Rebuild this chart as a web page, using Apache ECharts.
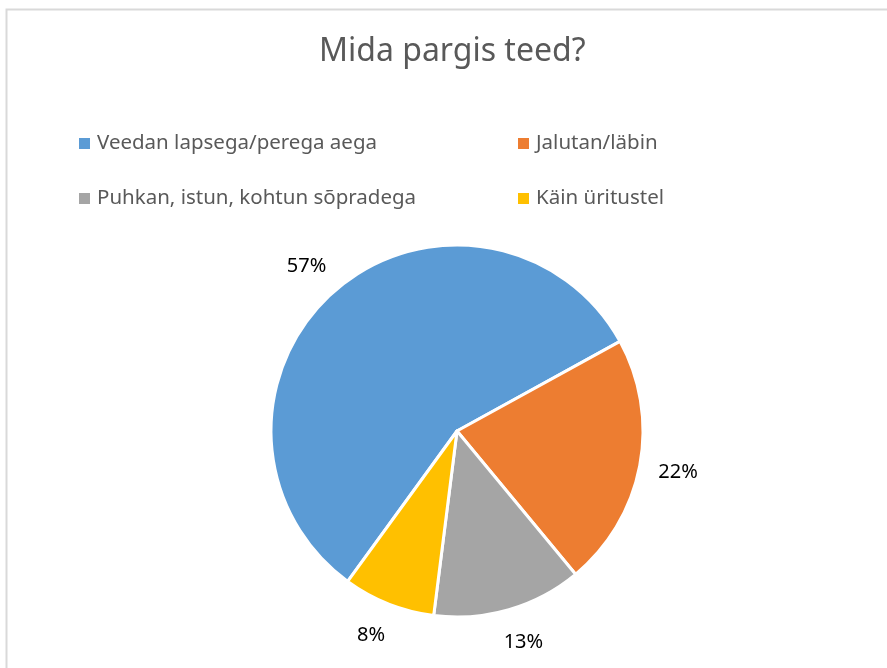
<!DOCTYPE html>
<html lang="et">
<head>
    <meta charset="UTF-8">
    <title>Mida pargis teed?</title>
    <script src="https://cdn.jsdelivr.net/npm/echarts@6/dist/echarts.min.js"></script>
    <style>
        html, body { margin: 0; padding: 0; background: #fff; }
    </style>
</head>
<body>
    <div id="main" style="width: 887px;height:668px;"></div>
    <script type="text/javascript">
        // andmed
        var categories = ['Veedan lapsega/perega aega', 'Jalutan/läbin', 'Puhkan, istun, kohtun sõpradega', 'Käin üritustel'];
        var values = [57, 22, 13, 8];
        var colors = ['#5B9BD5', '#ED7D31', '#A5A5A5', '#FFC000'];

        var myChart = echarts.init(document.getElementById('main'));

        var font = 'Noto Sans';
        var pieData = [];
        for (var i = 0; i < categories.length; i++) {
            pieData.push({ name: categories[i], value: values[i], itemStyle: { color: colors[i] } });
        }

        // legend: 2 rida, 2 veergu
        var legendPos = [[77, 133], [516, 133], [77, 188], [516, 188]];
        var legends = [];
        for (var j = 0; j < categories.length; j++) {
            legends.push({
                left: legendPos[j][0],
                top: legendPos[j][1],
                padding: 0,
                data: [categories[j]],
                icon: 'rect',
                itemWidth: 13,
                itemHeight: 13,
                itemGap: 0,
                selectedMode: false,
                textStyle: { fontFamily: font, fontSize: 20.5, color: '#595959', padding: [0, 0, 0, 1] }
            });
        }

        var option = {
            backgroundColor: '#fff',
            animation: false,
            title: {
                left: 319,
                top: 36,
                padding: 0,
                text: 'Mida pargis teed?',
                textStyle: { fontFamily: font, fontSize: 32, fontWeight: 'normal', color: '#595959' }
            },
            graphic: [{
                type: 'rect',
                shape: { x: 6.5, y: 9.5, width: 900, height: 700 },
                style: { fill: 'none', stroke: '#d9d9d9', lineWidth: 2 }
            }],
            legend: legends,
            series: [{
                type: 'pie',
                center: [457, 431],
                radius: 186,
                startAngle: 234,
                clockwise: true,
                data: pieData,
                itemStyle: { borderColor: '#fff', borderWidth: 3 },
                label: {
                    show: true,
                    position: 'outside',
                    formatter: '{c}%',
                    fontFamily: font,
                    fontSize: 20,
                    color: '#000'
                },
                labelLine: { show: false, length: 34, length2: 0 },
                labelLayout: function () {
                    return { align: 'center', verticalAlign: 'middle' };
                },
                emphasis: { disabled: true }
            }]
        };

        myChart.setOption(option);
    </script>
</body>
</html>
